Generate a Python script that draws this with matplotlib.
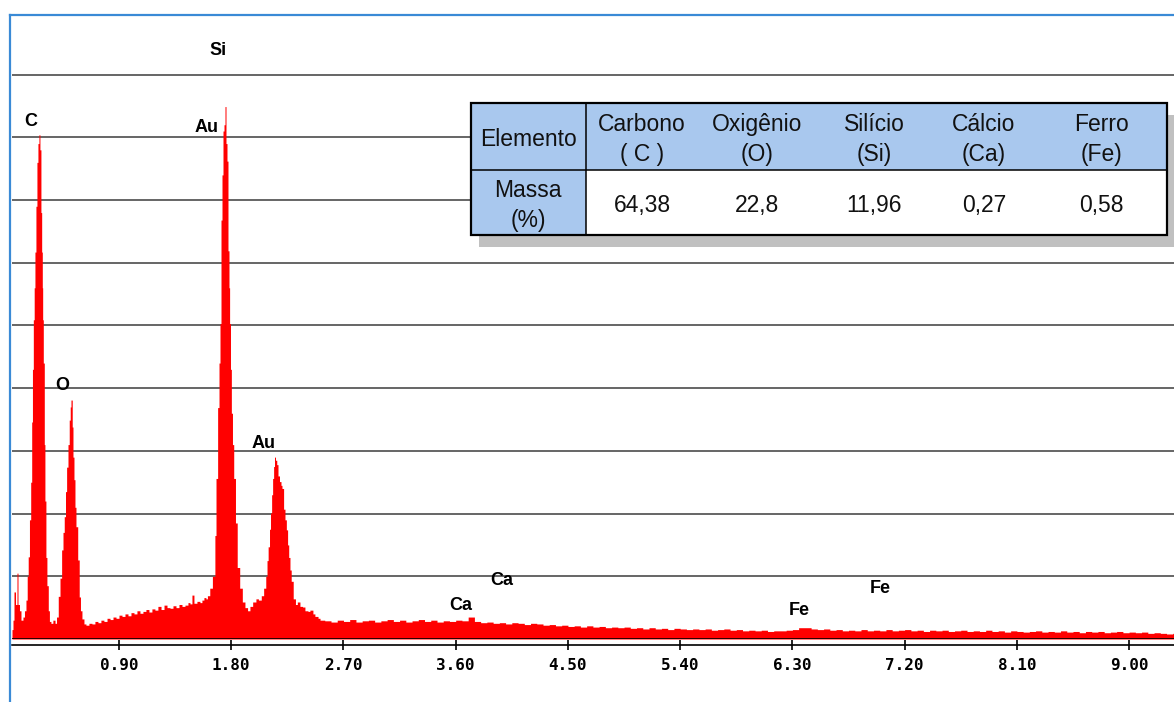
import matplotlib
matplotlib.use("Agg")
import matplotlib.pyplot as plt
from matplotlib.lines import Line2D
from matplotlib.patches import Rectangle

# Espectro EDS: energia (keV) do início de cada canal e contagens (unid. arb.)
energy_kev = [
    0.042, 0.050, 0.058, 0.070, 0.082, 0.090, 0.102, 0.114, 0.130, 0.142,
    0.154, 0.164, 0.172, 0.182, 0.192, 0.200, 0.206, 0.213, 0.220, 0.226,
    0.234, 0.242, 0.250, 0.258, 0.266, 0.274, 0.280, 0.285, 0.288, 0.293,
    0.301, 0.306, 0.314, 0.322, 0.333, 0.342, 0.354, 0.370, 0.387, 0.399,
    0.413, 0.427, 0.440, 0.451, 0.461, 0.471, 0.480, 0.491, 0.501, 0.509,
    0.515, 0.525, 0.531, 0.539, 0.547, 0.555, 0.569, 0.581, 0.591, 0.603,
    0.619, 0.635, 0.659, 0.683, 0.707, 0.731, 0.755, 0.779, 0.804, 0.828,
    0.852, 0.876, 0.900, 0.924, 0.948, 0.972, 0.996, 1.020, 1.044, 1.068,
    1.092, 1.116, 1.140, 1.164, 1.188, 1.212, 1.237, 1.261, 1.285, 1.309,
    1.333, 1.357, 1.381, 1.405, 1.429, 1.453, 1.469, 1.485, 1.501, 1.525,
    1.549, 1.565, 1.581, 1.597, 1.609, 1.628, 1.649, 1.669, 1.678, 1.691,
    1.702, 1.710, 1.718, 1.726, 1.734, 1.742, 1.750, 1.758, 1.766, 1.774,
    1.782, 1.787, 1.794, 1.801, 1.810, 1.820, 1.834, 1.848, 1.868, 1.889,
    1.910, 1.931, 1.950, 1.972, 1.998, 2.018, 2.041, 2.060, 2.077, 2.087,
    2.096, 2.107, 2.115, 2.124, 2.132, 2.140, 2.147, 2.155, 2.165, 2.175,
    2.187, 2.199, 2.207, 2.220, 2.231, 2.242, 2.252, 2.261, 2.271, 2.281,
    2.297, 2.315, 2.330, 2.351, 2.372, 2.391, 2.415, 2.431, 2.455, 2.471,
    2.496, 2.512,
    2.55, 2.60, 2.65, 2.70, 2.75, 2.80, 2.85, 2.90, 2.95, 3.00,
    3.05, 3.10, 3.15, 3.20, 3.25, 3.30, 3.35, 3.40, 3.45, 3.50,
    3.55, 3.60, 3.65, 3.70, 3.75, 3.80, 3.85, 3.90, 3.95, 4.00,
    4.05, 4.10, 4.15, 4.20, 4.25, 4.30, 4.35, 4.40, 4.45, 4.50,
    4.55, 4.60, 4.65, 4.70, 4.75, 4.80, 4.85, 4.90, 4.95, 5.00,
    5.05, 5.10, 5.15, 5.20, 5.25, 5.30, 5.35, 5.40, 5.45, 5.50,
    5.55, 5.60, 5.65, 5.70, 5.75, 5.80, 5.85, 5.90, 5.95, 6.00,
    6.05, 6.10, 6.15, 6.20, 6.25, 6.30, 6.35, 6.40, 6.45, 6.50,
    6.55, 6.60, 6.65, 6.70, 6.75, 6.80, 6.85, 6.90, 6.95, 7.00,
    7.05, 7.10, 7.15, 7.20, 7.25, 7.30, 7.35, 7.40, 7.45, 7.50,
    7.55, 7.60, 7.65, 7.70, 7.75, 7.80, 7.85, 7.90, 7.95, 8.00,
    8.05, 8.10, 8.15, 8.20, 8.25, 8.30, 8.35, 8.40, 8.45, 8.50,
    8.55, 8.60, 8.65, 8.70, 8.75, 8.80, 8.85, 8.90, 8.95, 9.00,
    9.05, 9.10, 9.15, 9.20, 9.25, 9.30, 9.35, 9.40,
]
counts = [
    0.15, 0.30, 0.75, 0.55, 1.05, 0.55, 0.45, 0.30, 0.35, 0.45,
    0.62, 1.00, 1.31, 1.90, 2.50, 3.46, 4.30, 5.09, 5.60, 6.17,
    6.90, 7.60, 7.90, 8.04, 7.80, 6.80, 6.17, 5.60, 5.09, 4.40,
    3.10, 2.20, 1.30, 0.85, 0.45, 0.28, 0.25, 0.30, 0.25, 0.35,
    0.68, 0.97, 1.42, 1.70, 1.95, 2.35, 2.74, 3.10, 3.49, 3.70,
    3.81, 3.38, 2.90, 2.54, 2.10, 1.79, 1.26, 0.67, 0.45, 0.32,
    0.24, 0.22, 0.25, 0.24, 0.28, 0.26, 0.30, 0.28, 0.33, 0.31,
    0.35, 0.33, 0.38, 0.36, 0.40, 0.37, 0.42, 0.40, 0.45, 0.41,
    0.44, 0.47, 0.43, 0.48, 0.46, 0.52, 0.47, 0.54, 0.50, 0.49,
    0.53, 0.50, 0.55, 0.52, 0.54, 0.58, 0.56, 0.70, 0.57, 0.60,
    0.58, 0.62, 0.66, 0.64, 0.69, 0.81, 1.00, 1.65, 2.56, 3.69,
    4.40, 5.03, 6.68, 7.40, 8.10, 8.20, 8.49, 7.90, 7.62, 6.19,
    5.60, 5.03, 4.30, 3.60, 3.10, 2.56, 1.85, 1.14, 0.81, 0.59,
    0.50, 0.45, 0.52, 0.59, 0.64, 0.62, 0.69, 0.81, 1.00, 1.25,
    1.47, 1.75, 2.01, 2.30, 2.56, 2.75, 2.90, 2.85, 2.78, 2.60,
    2.51, 2.45, 2.40, 2.07, 1.90, 1.74, 1.50, 1.30, 1.10, 0.92,
    0.64, 0.55, 0.59, 0.52, 0.51, 0.45, 0.44, 0.46, 0.40, 0.36,
    0.33, 0.30,
    0.29, 0.27, 0.30, 0.28, 0.31, 0.27, 0.29, 0.30, 0.27, 0.29,
    0.31, 0.28, 0.30, 0.27, 0.29, 0.31, 0.28, 0.30, 0.27, 0.29,
    0.28, 0.30, 0.29, 0.35, 0.28, 0.26, 0.27, 0.25, 0.26, 0.24,
    0.26, 0.25, 0.23, 0.25, 0.24, 0.22, 0.23, 0.21, 0.22, 0.20,
    0.21, 0.19, 0.21, 0.19, 0.20, 0.18, 0.19, 0.18, 0.19, 0.17,
    0.18, 0.16, 0.18, 0.16, 0.17, 0.15, 0.17, 0.16, 0.15, 0.16,
    0.15, 0.16, 0.14, 0.15, 0.16, 0.14, 0.15, 0.13, 0.14, 0.13,
    0.14, 0.12, 0.13, 0.13, 0.14, 0.15, 0.18, 0.18, 0.16, 0.15,
    0.16, 0.14, 0.15, 0.13, 0.14, 0.13, 0.15, 0.13, 0.14, 0.13,
    0.15, 0.13, 0.14, 0.15, 0.13, 0.14, 0.12, 0.14, 0.13, 0.14,
    0.12, 0.13, 0.14, 0.12, 0.13, 0.12, 0.14, 0.12, 0.13, 0.11,
    0.13, 0.12, 0.11, 0.12, 0.13, 0.11, 0.12, 0.11, 0.13, 0.11,
    0.12, 0.10, 0.12, 0.11, 0.12, 0.10, 0.11, 0.12, 0.10, 0.11,
    0.10, 0.11, 0.09, 0.10, 0.09, 0.08, 0.09, 0.08,
]

# identificação dos picos
peak_labels = ["Si", "C", "Au", "O", "Au", "Ca", "Ca", "Fe", "Fe"]
label_kev = [1.694, 0.194, 1.605, 0.443, 2.063, 3.971, 3.642, 7.002, 6.353]
label_counts = [9.39, 8.25, 8.15, 4.04, 3.11, 0.94, 0.54, 0.81, 0.45]

energy_ticks = [0.90, 1.80, 2.70, 3.60, 4.50, 5.40, 6.30, 7.20, 8.10, 9.00]

# tabela de composição (% em massa)
table_header = ["Elemento", "Carbono\n( C )", "Oxigênio\n(O)", "Silício\n(Si)",
                "Cálcio\n(Ca)", "Ferro\n(Fe)"]
table_row = ["Massa\n(%)", "64,38", "22,8", "11,96", "0,27", "0,58"]

W, H = 1174, 702
fig = plt.figure(figsize=(W / 100, H / 100), dpi=100)
fig.patch.set_facecolor("white")

# área do espectro (coordenadas em pixels convertidas p/ fração da figura)
ax = fig.add_axes([12 / W, 1 - 639 / H, 1 - 12 / W, (639 - 15) / H])
ax.set_xlim(0.042, 9.36)
ax.set_ylim(0, 9.95)

for v in range(1, 10):
    ax.axhline(v, color="#3c3c3c", lw=1.1, zorder=1)
ax.fill_between(energy_kev, counts, step="post", color="#ff0000", lw=0, zorder=2)
ax.axhline(0, color="black", lw=1.2, zorder=3)

for side in ("left", "right", "top"):
    ax.spines[side].set_visible(False)
ax.spines["bottom"].set_position(("outward", 4.3))
ax.spines["bottom"].set_linewidth(1.2)
ax.set_yticks([])
ax.set_xticks(energy_ticks)
ax.set_xticklabels([f"{t:.2f}" for t in energy_ticks],
                   fontfamily="DejaVu Sans Mono", fontweight="bold")
ax.tick_params(axis="x", direction="inout", length=6.5, width=1.2,
               pad=6, labelsize=11.5)

for s, x, y in zip(peak_labels, label_kev, label_counts):
    ax.text(x, y, s, ha="center", va="center", fontsize=13,
            fontweight="bold", family="Liberation Sans", zorder=4)

# moldura azul
blue = "#3a8ad6"
fig.add_artist(Line2D([10 / W, 10 / W], [0, 1 - 15 / H], color=blue, lw=1.6))
fig.add_artist(Line2D([10 / W, 1], [1 - 15 / H, 1 - 15 / H], color=blue, lw=1.6))

# tabela sobreposta, em coordenadas de pixel
tax = fig.add_axes([0, 0, 1, 1], zorder=5)
tax.set_xlim(0, W)
tax.set_ylim(H, 0)
tax.axis("off")

x0, x1, y0, ymid, y1, xdiv = 471, 1167, 103, 170, 235, 586
col_centers = [528, 642, 757, 874, 984, 1101]
head_blue = "#a9c8ee"

tax.add_patch(Rectangle((x0 + 8, y0 + 12), x1 - x0, y1 - y0, fc="#c0c0c0", ec="none"))
tax.add_patch(Rectangle((x0, y0), x1 - x0, ymid - y0, fc=head_blue, ec="none"))
tax.add_patch(Rectangle((x0, ymid), xdiv - x0, y1 - ymid, fc=head_blue, ec="none"))
tax.add_patch(Rectangle((xdiv, ymid), x1 - xdiv, y1 - ymid, fc="white", ec="none"))
tax.plot([x0, x1], [ymid, ymid], color="black", lw=1.1)
tax.plot([xdiv, xdiv], [y0, y1], color="black", lw=1.1)
tax.add_patch(Rectangle((x0, y0), x1 - x0, y1 - y0, fill=False, ec="black", lw=1.6))

for s, cx in zip(table_header, col_centers):
    tax.text(cx, (y0 + ymid) / 2 + 3, s, ha="center", va="center", fontsize=16.5,
             family="Liberation Sans", linespacing=1.42, color="#111111")
for s, cx in zip(table_row, col_centers):
    tax.text(cx, (ymid + y1) / 2 + 3, s, ha="center", va="center", fontsize=16.5,
             family="Liberation Sans", linespacing=1.42, color="#111111")

fig.savefig("out.png", dpi=100)
